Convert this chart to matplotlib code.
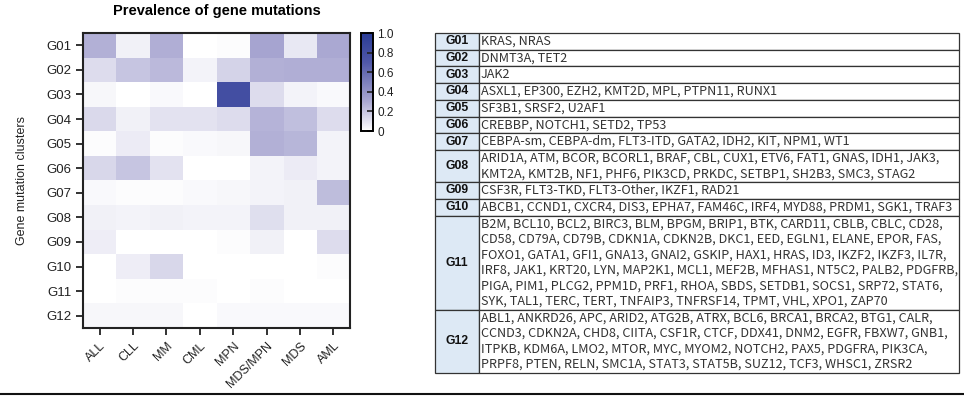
import numpy as np
import matplotlib.pyplot as plt
from matplotlib.colors import LinearSegmentedColormap
from matplotlib.patches import Rectangle
from matplotlib.lines import Line2D

# heatmap data
diseases = ["ALL", "CLL", "MM", "CML", "MPN", "MDS/MPN", "MDS", "AML"]
clusters = ["G01", "G02", "G03", "G04", "G05", "G06",
            "G07", "G08", "G09", "G10", "G11", "G12"]
prevalence = np.array([
    [0.27, 0.05, 0.28, 0.00, 0.01, 0.32, 0.08, 0.30],
    [0.12, 0.20, 0.24, 0.04, 0.15, 0.27, 0.28, 0.28],
    [0.03, 0.00, 0.02, 0.00, 0.80, 0.12, 0.04, 0.02],
    [0.13, 0.05, 0.10, 0.10, 0.12, 0.26, 0.22, 0.12],
    [0.01, 0.07, 0.01, 0.02, 0.03, 0.27, 0.25, 0.04],
    [0.14, 0.20, 0.10, 0.00, 0.00, 0.04, 0.07, 0.04],
    [0.02, 0.01, 0.01, 0.02, 0.03, 0.04, 0.05, 0.23],
    [0.05, 0.04, 0.05, 0.04, 0.04, 0.11, 0.05, 0.05],
    [0.06, 0.00, 0.00, 0.00, 0.01, 0.05, 0.00, 0.12],
    [0.00, 0.06, 0.14, 0.00, 0.00, 0.00, 0.00, 0.01],
    [0.00, 0.01, 0.01, 0.01, 0.00, 0.01, 0.00, 0.00],
    [0.03, 0.03, 0.03, 0.00, 0.02, 0.02, 0.02, 0.02],
])
cbar_ticks = [0, 0.2, 0.4, 0.6, 0.8, 1.0]
cbar_labels = ["0", "0.2", "0.4", "0.6", "0.8", "1.0"]

# table data, one string per printed line
genes = [
    ["KRAS, NRAS"],
    ["DNMT3A, TET2"],
    ["JAK2"],
    ["ASXL1, EP300, EZH2, KMT2D, MPL, PTPN11, RUNX1"],
    ["SF3B1, SRSF2, U2AF1"],
    ["CREBBP, NOTCH1, SETD2, TP53"],
    ["CEBPA-sm, CEBPA-dm, FLT3-ITD, GATA2, IDH2, KIT, NPM1, WT1"],
    ["ARID1A, ATM, BCOR, BCORL1, BRAF, CBL, CUX1, ETV6, FAT1, GNAS, IDH1, JAK3,",
     "KMT2A, KMT2B, NF1, PHF6, PIK3CD, PRKDC, SETBP1, SH2B3, SMC3, STAG2"],
    ["CSF3R, FLT3-TKD, FLT3-Other, IKZF1, RAD21"],
    ["ABCB1, CCND1, CXCR4, DIS3, EPHA7, FAM46C, IRF4, MYD88, PRDM1, SGK1, TRAF3"],
    ["B2M, BCL10, BCL2, BIRC3, BLM, BPGM, BRIP1, BTK, CARD11, CBLB, CBLC, CD28,",
     "CD58, CD79A, CD79B, CDKN1A, CDKN2B, DKC1, EED, EGLN1, ELANE, EPOR, FAS,",
     "FOXO1, GATA1, GFI1, GNA13, GNAI2, GSKIP, HAX1, HRAS, ID3, IKZF2, IKZF3, IL7R,",
     "IRF8, JAK1, KRT20, LYN, MAP2K1, MCL1, MEF2B, MFHAS1, NT5C2, PALB2, PDGFRB,",
     "PIGA, PIM1, PLCG2, PPM1D, PRF1, RHOA, SBDS, SETDB1, SOCS1, SRP72, STAT6,",
     "SYK, TAL1, TERC, TERT, TNFAIP3, TNFRSF14, TPMT, VHL, XPO1, ZAP70"],
    ["ABL1, ANKRD26, APC, ARID2, ATG2B, ATRX, BCL6, BRCA1, BRCA2, BTG1, CALR,",
     "CCND3, CDKN2A, CHD8, CIITA, CSF1R, CTCF, DDX41, DNM2, EGFR, FBXW7, GNB1,",
     "ITPKB, KDM6A, LMO2, MTOR, MYC, MYOM2, NOTCH2, PAX5, PDGFRA, PIK3CA,",
     "PRPF8, PTEN, RELN, SMC1A, STAT3, STAT5B, SUZ12, TCF3, WHSC1, ZRSR2"],
]

W, H = 964, 397
fig = plt.figure(figsize=(W / 100, H / 100), dpi=100)
plt.rcParams['font.family'] = ['Liberation Sans', 'DejaVu Sans']

cmap = LinearSegmentedColormap.from_list(
    "wb", [(0, "#ffffff"), (0.3, "#aaa8d2"), (0.7, "#5058a8"), (1, "#2a3c96")])

ax = fig.add_axes([83 / W, 1 - 328 / H, 267 / W, 295 / H])
im = ax.imshow(prevalence, cmap=cmap, vmin=0, vmax=1, aspect='auto',
               interpolation='nearest')
ax.set_xticks(range(len(diseases)))
ax.set_xticklabels(diseases, rotation=45, ha='right', rotation_mode='anchor',
                   fontsize=9, color='#222222')
ax.set_yticks(range(len(clusters)))
ax.set_yticklabels(clusters, fontsize=9.5, color='#222222')
ax.tick_params(length=5, width=1.3, color='#222222')
for s in ax.spines.values():
    s.set_linewidth(1.5)
    s.set_color('#222222')
ax.set_ylabel("Gene mutation clusters", fontsize=9, color='#222222', labelpad=13)
ax.set_title("Prevalence of gene mutations", fontsize=10.5, fontweight='bold',
             pad=13)

cax = fig.add_axes([361 / W, 1 - 131 / H, 12 / W, 98 / H])
cb = fig.colorbar(im, cax=cax, ticks=cbar_ticks)
cb.ax.set_yticklabels(cbar_labels)
cb.ax.tick_params(direction='in', length=4, width=1.2, labelsize=8.5,
                  colors='#222222', pad=3)
cb.outline.set_linewidth(1.4)

# table drawn in pixel coordinates
tx = fig.add_axes([0, 0, 1, 1])
tx.set_xlim(0, W)
tx.set_ylim(H, 0)
tx.axis('off')

left, mid, right, top = 435, 479, 959, 33
line_h, pad = 15.5, 1.2
y = top
for lab, lines in zip(clusters, genes):
    h = len(lines) * line_h + pad
    tx.add_patch(Rectangle((left, y), mid - left, h, facecolor='#dde9f5',
                           edgecolor='#333333', linewidth=0.9))
    tx.add_patch(Rectangle((mid, y), right - mid, h, facecolor='white',
                           edgecolor='#333333', linewidth=0.9))
    tx.text((left + mid) / 2, y + h / 2, lab, ha='center', va='center',
            fontsize=8.8, fontweight='bold', color='#111111')
    for k, ln in enumerate(lines):
        tx.text(mid + 2, y + pad / 2 + (k + 0.5) * line_h, ln, ha='left',
                va='center', fontsize=9.1, color='#333333',
                family=['Noto Sans CJK SC', 'DejaVu Sans'])
    y += h

tx.add_line(Line2D([0, W], [394, 394], color='#111111', linewidth=1.5))

fig.savefig("out.png", dpi=100)
